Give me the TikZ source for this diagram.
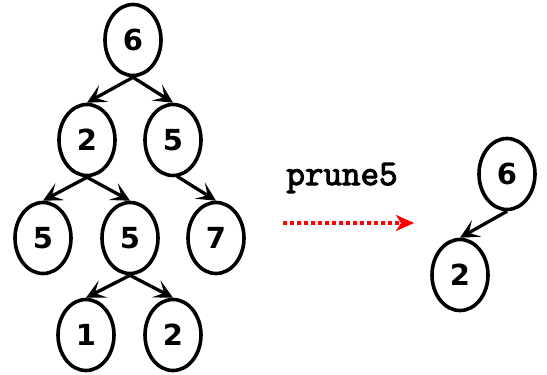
\documentclass[tikz,border=0pt]{standalone}
\usepackage{fontspec}
\usetikzlibrary{shapes.geometric,arrows.meta}
\newfontfamily\digitfont{DejaVu Sans}
\newfontfamily\codefont[FakeBold=3]{Latin Modern Mono}
\tikzset{
  tnode/.style={draw=black, line width=3.6pt, ellipse, minimum width=56pt, minimum height=71pt, inner sep=0pt, font=\digitfont\bfseries\fontsize{29}{29}\selectfont},
  tedge/.style={line width=3.3pt, -{Stealth[length=19pt,width=19pt,inset=9pt]}},
  pruneedge/.style={red, line width=4pt, dash pattern=on 4pt off 3pt, -{Stealth[length=18pt,width=16pt,inset=5pt]}}
}
\begin{document}
\begin{tikzpicture}[x=1pt,y=-1pt]
\useasboundingbox (0,0) rectangle (547,375);
\node[tnode] (r) at (133,40) {6};
\node[tnode] (a) at (87,140) {2};
\node[tnode] (b) at (173,140) {5};
\node[tnode] (c) at (43,238) {5};
\node[tnode] (d) at (130,238) {5};
\node[tnode] (e) at (216,238) {7};
\node[tnode] (f) at (86,335) {1};
\node[tnode] (g) at (173,335) {2};
\draw[tedge] (r.south) -- (a.north);
\draw[tedge] (r.south) -- (b.north);
\draw[tedge] (a.south) -- (c.north);
\draw[tedge] (a.south) -- (d.north);
\draw[tedge] (b.south) ++(4,-1) coordinate (bs) -- (e.north);
\draw[tedge] (d.south) -- (f.north);
\draw[tedge] (d.south) -- (g.north);
\node[tnode] (p) at (507,174) {6};
\node[tnode] (q) at (460,275) {2};
\draw[tedge] (p.south) -- (q.north);
\node[anchor=base, inner sep=0pt, font=\codefont\fontsize{36}{36}\selectfont] (t) at (342,185) {prune5};
\coordinate (s1) at (283,223);
\coordinate (s2) at (414,223);
\draw[pruneedge] (s1) -- (s2);
\end{tikzpicture}
\end{document}
